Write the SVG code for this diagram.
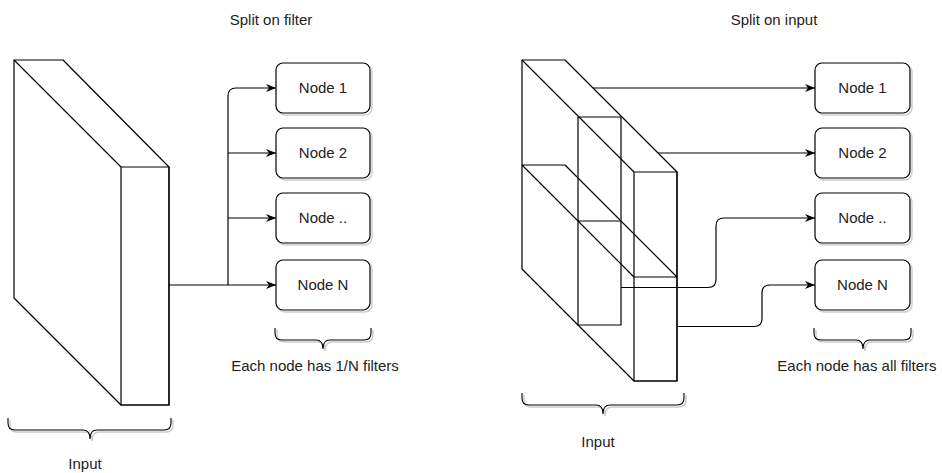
<svg xmlns="http://www.w3.org/2000/svg" width="942" height="473" viewBox="0 0 942 473">
<defs>
<marker id="arr" markerUnits="userSpaceOnUse" viewBox="0 0 10 8" refX="10" refY="4" markerWidth="10" markerHeight="8" orient="auto">
<path d="M0,0 L10,4 L0,8 L3,4 Z" fill="#000"/>
</marker>
</defs>
<style>
.edge{fill:none;stroke:#000;stroke-width:1.2}
.cube{fill:none;stroke:#000;stroke-width:1.2;stroke-linejoin:round}
.node{fill:#fff;stroke:#000;stroke-width:1.2}
.shadow{fill:none;stroke:#d0d0d0;stroke-width:1.5}
.brace{fill:none;stroke:#000;stroke-width:1.1}
.braceS{fill:none;stroke:#ccc;stroke-width:1.5}
text{font-family:"Liberation Sans",Arial,Helvetica,sans-serif;font-size:15px;fill:#222;text-anchor:middle}
</style>
<rect width="942" height="473" fill="#fff"/>

<text x="271" y="25">Split on filter</text>
<text x="774" y="25">Split on input</text>

<g id="input-left">
<path class="cube" d="M14,60 L63,60 L169,167 L169,405 L121,405 L14,298 Z"/>
<path class="cube" d="M121,167 L169,167 L169,405 L121,405 Z M14,60 L121,167"/>
</g>

<g id="input-right">
<path class="cube" d="M522,60 L565,60 L677,172 L677,381 L634,381 L522,269 Z"/>
<path class="cube" d="M634,172 L677,172 L677,381 L634,381 Z M522,60 L634,172"/>
<path class="cube" d="M522,165 L565,165 L677,277 M522,165 L634,277 L677,277"/>
<path class="cube" d="M578,117 L621,117 L621,325 L578,325 Z M578,221 L621,221"/>
</g>

<g id="connectors">
<path class="edge" d="M169,285 L276,285" marker-end="url(#arr)"/>
<path class="edge" d="M228,285 L228,96 Q228,88 236,88 L276,88" marker-end="url(#arr)"/>
<path class="edge" d="M228,153 L276,153" marker-end="url(#arr)"/>
<path class="edge" d="M228,218 L276,218" marker-end="url(#arr)"/>
<path class="edge" d="M593,88 L815,88" marker-end="url(#arr)"/>
<path class="edge" d="M658,153 L815,153" marker-end="url(#arr)"/>
<path class="edge" d="M621,287.5 L708,287.5 Q716,287.5 716,279.5 L716,226 Q716,218 724,218 L815,218" marker-end="url(#arr)"/>
<path class="edge" d="M677,326.5 L754,326.5 Q762,326.5 762,318.5 L762,293 Q762,285 770,285 L815,285" marker-end="url(#arr)"/>
</g>

<g id="node1-left">
<rect class="shadow" x="278" y="65" width="94" height="50" rx="7"/>
<rect class="node" x="276" y="63" width="94" height="50" rx="7"/>
<text x="323" y="93">Node 1</text>
</g>
<g id="node2-left">
<rect class="shadow" x="278" y="130" width="94" height="50" rx="7"/>
<rect class="node" x="276" y="128" width="94" height="50" rx="7"/>
<text x="323" y="158">Node 2</text>
</g>
<g id="node3-left">
<rect class="shadow" x="278" y="195" width="94" height="50" rx="7"/>
<rect class="node" x="276" y="193" width="94" height="50" rx="7"/>
<text x="323" y="223">Node ..</text>
</g>
<g id="nodeN-left">
<rect class="shadow" x="278" y="262" width="94" height="50" rx="7"/>
<rect class="node" x="276" y="260" width="94" height="50" rx="7"/>
<text x="323" y="290">Node N</text>
</g>

<g id="node1-right">
<rect class="shadow" x="817" y="65" width="95" height="50" rx="7"/>
<rect class="node" x="815" y="63" width="95" height="50" rx="7"/>
<text x="862.5" y="93">Node 1</text>
</g>
<g id="node2-right">
<rect class="shadow" x="817" y="130" width="95" height="50" rx="7"/>
<rect class="node" x="815" y="128" width="95" height="50" rx="7"/>
<text x="862.5" y="158">Node 2</text>
</g>
<g id="node3-right">
<rect class="shadow" x="817" y="195" width="95" height="50" rx="7"/>
<rect class="node" x="815" y="193" width="95" height="50" rx="7"/>
<text x="862.5" y="223">Node ..</text>
</g>
<g id="nodeN-right">
<rect class="shadow" x="817" y="262" width="95" height="50" rx="7"/>
<rect class="node" x="815" y="260" width="95" height="50" rx="7"/>
<text x="862.5" y="290">Node N</text>
</g>

<g id="brace-nodes-left">
<path class="braceS" d="M277,330 L277,335 Q277,342 284,342 L318,342 Q325,342 325,351 Q325,342 332,342 L366,342 Q373,342 373,335 L373,330"/>
<path class="brace" d="M275,328 L275,333 Q275,340 282,340 L316,340 Q323,340 323,349 Q323,340 330,340 L364,340 Q371,340 371,333 L371,328"/>
<text x="315" y="371">Each node has 1/N filters</text>
</g>

<g id="brace-nodes-right">
<path class="braceS" d="M816,330 L816,335 Q816,342 823,342 L858,342 Q865,342 865,351 Q865,342 872,342 L906,342 Q913,342 913,335 L913,330"/>
<path class="brace" d="M814,328 L814,333 Q814,340 821,340 L856,340 Q863,340 863,349 Q863,340 870,340 L904,340 Q911,340 911,333 L911,328"/>
<text x="857" y="371">Each node has all filters</text>
</g>

<g id="brace-input-left">
<path class="braceS" d="M10,420 L10,425 Q10,432 17,432 L85,432 Q92,432 92,441 Q92,432 99,432 L166,432 Q173,432 173,425 L173,420"/>
<path class="brace" d="M8,418 L8,423 Q8,430 15,430 L83,430 Q90,430 90,439 Q90,430 97,430 L164,430 Q171,430 171,423 L171,418"/>
<text x="85" y="469">Input</text>
</g>

<g id="brace-input-right">
<path class="braceS" d="M524,395 L524,400 Q524,407 531,407 L598,407 Q605,407 605,416 Q605,407 612,407 L679,407 Q686,407 686,400 L686,395"/>
<path class="brace" d="M522,393 L522,398 Q522,405 529,405 L596,405 Q603,405 603,414 Q603,405 610,405 L677,405 Q684,405 684,398 L684,393"/>
<text x="598" y="447">Input</text>
</g>
</svg>
